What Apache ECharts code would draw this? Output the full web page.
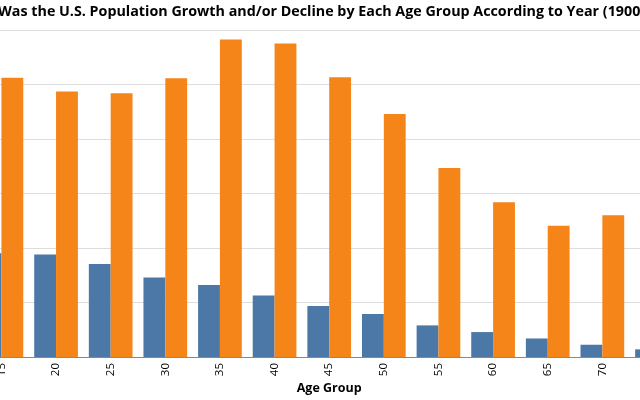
<!DOCTYPE html>
<html>
<head>
<meta charset="utf-8">
<script src="https://cdn.jsdelivr.net/npm/echarts@6/dist/echarts.min.js"></script>
<style>
  html, body { margin: 0; padding: 0; background: #fff; overflow: hidden; width: 640px; height: 400px; }
  #wrap { position: relative; width: 640px; height: 400px; overflow: hidden; }
  #chart { position: absolute; left: -200px; top: 0; width: 1040px; height: 400px; }
</style>
</head>
<body>
<div id="wrap"><div id="chart"></div></div>
<script>
// Age groups visible in the chart
var ageGroups = ['15', '20', '25', '30', '35', '40', '45', '50', '55', '60', '65', '70', '75'];
// Population (millions)
var pop1900 = [7.62, 7.52, 6.82, 5.83, 5.28, 4.51, 3.74, 3.15, 2.32, 1.83, 1.36, 0.90, 0.56];
var pop2000 = [20.49, 19.49, 19.35, 20.45, 23.30, 23.01, 20.54, 17.83, 13.87, 11.36, 9.64, 10.41, null];
var yearNames = ['1900', '2000'];
var titleText = 'What Was the U.S. Population Growth and/or Decline by Each Age Group According to Year (1900 vs. 2000)';

var OFFSET = 200; // chart canvas starts 200px left of the window
var TITLE_SIZE = 14.3;
var mc = document.createElement('canvas').getContext('2d');
mc.font = 'bold ' + TITLE_SIZE + 'px "Open Sans"';
var hiddenW = mc.measureText('What ').width;

var chart = echarts.init(document.getElementById('chart'), null, { renderer: 'canvas' });
chart.setOption({
  animation: false,
  backgroundColor: '#ffffff',
  title: {
    text: titleText,
    left: OFFSET - 2 - hiddenW,
    top: 4.5,
    padding: 0,
    textStyle: { fontFamily: 'Open Sans', fontWeight: 'bold', fontSize: TITLE_SIZE, color: '#000' }
  },
  grid: { left: OFFSET - 25.9, right: 1040 - OFFSET - 684.3, top: 30, bottom: 42.5, containLabel: false },
  xAxis: {
    type: 'category',
    data: ageGroups,
    name: 'Age Group',
    nameLocation: 'middle',
    nameGap: 25,
    nameMoveOverlap: false,
    nameTextStyle: { fontFamily: 'Open Sans', fontWeight: 'bold', fontSize: 12.5, color: '#000' },
    axisLine: { lineStyle: { color: '#888', width: 1 } },
    axisTick: { alignWithLabel: true, length: 5, lineStyle: { color: '#888' } },
    axisLabel: { rotate: 90, fontFamily: 'Open Sans', fontSize: 11.5, color: '#000', margin: 6 },
    splitLine: { show: false }
  },
  yAxis: {
    type: 'value',
    min: 0,
    max: 24,
    interval: 4,
    axisLine: { show: false },
    axisTick: { show: false },
    axisLabel: { show: false },
    splitLine: { lineStyle: { color: '#dddddd', width: 1 } }
  },
  series: [
    { name: yearNames[0], type: 'bar', data: pop1900, itemStyle: { color: '#4c78a8' }, barGap: '0%', barCategoryGap: '20%' },
    { name: yearNames[1], type: 'bar', data: pop2000, itemStyle: { color: '#f58518' }, barGap: '0%', barCategoryGap: '20%' }
  ]
});
</script>
</body>
</html>
